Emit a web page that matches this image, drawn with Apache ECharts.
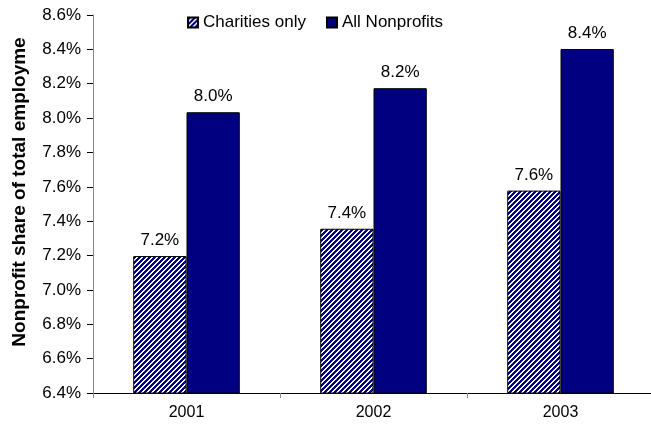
<!DOCTYPE html>
<html>
<head>
<meta charset="utf-8">
<script src="https://cdn.jsdelivr.net/npm/echarts@6/dist/echarts.min.js"></script>
<style>
html,body{margin:0;padding:0;background:#fff;}
#chart{width:651px;height:432px;}
</style>
</head>
<body>
<div id="chart"></div>
<script>
var categories = ['2001', '2002', '2003'];
var charitiesOnly = [7.197, 7.356, 7.578];
var allNonprofits = [8.034, 8.174, 8.402];
var yTicks = [6.4, 6.6, 6.8, 7.0, 7.2, 7.4, 7.6, 7.8, 8.0, 8.2, 8.4, 8.6];

function makeHatch() {
  var n = 5;
  var c = document.createElement('canvas');
  c.width = n; c.height = n;
  var ctx = c.getContext('2d');
  var img = ctx.createImageData(n, n);
  for (var y = 0; y < n; y++) {
    for (var x = 0; x < n; x++) {
      var i = (y * n + x) * 4;
      var navy = ((x + y) % n) < 3;
      img.data[i] = navy ? 0 : 255;
      img.data[i + 1] = navy ? 0 : 255;
      img.data[i + 2] = navy ? 128 : 255;
      img.data[i + 3] = 255;
    }
  }
  ctx.putImageData(img, 0, 0);
  return c;
}

var chart = echarts.init(document.getElementById('chart'));
var fontFam = 'Liberation Sans, Arial, sans-serif';
chart.setOption({
  animation: false,
  textStyle: { fontFamily: fontFam },
  legend: {
    top: 9,
    left: 182,
    icon: 'rect',
    itemWidth: 10,
    itemHeight: 10,
    itemGap: 20,
    textStyle: { fontSize: 17, color: '#000', fontFamily: fontFam },
    data: ['Charities only', 'All Nonprofits']
  },
  grid: { left: 93, top: 15, right: -3, bottom: 39, containLabel: false, outerBoundsMode: 'none' },
  xAxis: {
    type: 'category',
    data: categories,
    axisLine: { lineStyle: { color: '#000', width: 1 } },
    axisTick: { show: true, length: 5, lineStyle: { color: '#888' } },
    axisLabel: { fontSize: 16, color: '#000', margin: 12, fontFamily: fontFam }
  },
  yAxis: {
    type: 'value',
    min: yTicks[0],
    max: yTicks[yTicks.length - 1],
    interval: 0.2,
    name: 'Nonprofit share of total employme',
    nameLocation: 'middle',
    nameGap: 64,
    nameTextStyle: { fontSize: 19, fontWeight: 'bold', color: '#000', fontFamily: fontFam, padding: [0, 0, 0, 24] },
    axisLine: { show: true, lineStyle: { color: '#888', width: 1 } },
    axisTick: { show: true, length: 6, lineStyle: { color: '#000' } },
    splitLine: { show: false },
    axisLabel: {
      fontSize: 17, color: '#000', margin: 12, fontFamily: fontFam,
      formatter: function (v) { return v.toFixed(1) + '%'; }
    }
  },
  series: [
    {
      name: 'Charities only',
      type: 'bar',
      data: charitiesOnly,
      barGap: '0%',
      barCategoryGap: '43%',
      itemStyle: {
        color: { image: makeHatch(), repeat: 'repeat' },
        borderColor: '#000',
        borderWidth: 1
      },
      label: {
        show: true, position: 'top', distance: 7,
        fontSize: 17, color: '#000', fontFamily: fontFam,
        formatter: function (p) { return p.value.toFixed(1) + '%'; }
      }
    },
    {
      name: 'All Nonprofits',
      type: 'bar',
      data: allNonprofits,
      barGap: '0%',
      barCategoryGap: '43%',
      itemStyle: { color: '#000080', borderColor: '#000', borderWidth: 1 },
      label: {
        show: true, position: 'top', distance: 7,
        fontSize: 17, color: '#000', fontFamily: fontFam,
        formatter: function (p) { return p.value.toFixed(1) + '%'; }
      }
    }
  ]
});
</script>
</body>
</html>
